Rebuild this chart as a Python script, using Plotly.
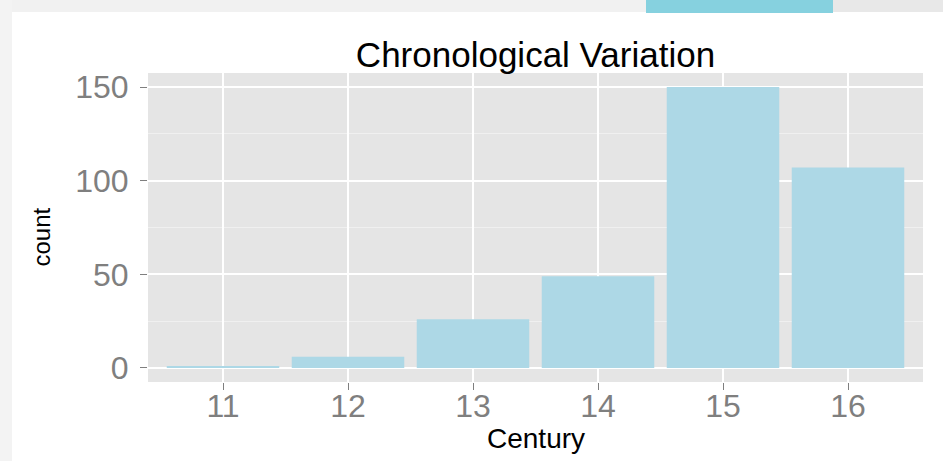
import plotly.graph_objects as go

centuries = ["11", "12", "13", "14", "15", "16"]
counts = [1, 6, 26, 49, 150, 107]
y_ticks = [0, 50, 100, 150]

W, H = 943, 461
L, R, T, B = 148, 20, 73, 79
pw, ph = W - L - R, H - T - B

def px(x):
    return (x - L) / pw

def py(y):
    return (H - B - y) / ph

fig = go.Figure(go.Bar(
    x=centuries, y=counts, width=0.9,
    marker=dict(color="#add8e6", line=dict(width=0)),
))

font_family = "Liberation Sans, Arial, Helvetica, sans-serif"

fig.update_layout(
    width=W, height=H, autosize=False,
    margin=dict(l=L, r=R, t=T, b=B, autoexpand=False),
    paper_bgcolor="white",
    plot_bgcolor="#e5e5e5",
    showlegend=False,
    title=dict(text="Chronological Variation", x=px(535.5), xref="paper", xanchor="center",
               y=1 - 55 / H, yref="container", yanchor="middle",
               font=dict(family=font_family, size=35, color="black")),
    font=dict(family=font_family),
    xaxis=dict(
        type="category", range=[-0.6, 5.6], automargin=False,
        showgrid=True, gridcolor="white", gridwidth=2,
        ticks="outside", ticklen=7, tickcolor="#7f7f7f", tickwidth=1,
        tickfont=dict(size=32, color="#7f7f7f"),
        ticklabelstandoff=-11,
        zeroline=False, showline=False,
    ),
    yaxis=dict(
        range=[-7.5, 157.5], tickvals=y_ticks, automargin=False,
        showgrid=True, gridcolor="white", gridwidth=2,
        minor=dict(dtick=25, tick0=0, showgrid=True, gridcolor="#f0f0f0", gridwidth=1),
        ticks="outside", ticklen=7, tickcolor="#7f7f7f", tickwidth=1,
        tickfont=dict(size=32, color="#7f7f7f"),
        ticklabelstandoff=5,
        zeroline=False, showline=False,
    ),
    bargap=0.1,
    annotations=[
        dict(text="Century", xref="paper", yref="paper", x=px(535.5), y=py(438),
             xanchor="center", yanchor="middle", showarrow=False,
             font=dict(family=font_family, size=28, color="black")),
        dict(text="count", xref="paper", yref="paper", x=px(41), y=py(237.5), textangle=-90,
             xanchor="center", yanchor="middle", showarrow=False,
             font=dict(family=font_family, size=24, color="black")),
    ],
    shapes=[
        dict(type="rect", xref="paper", yref="paper", x0=px(0), x1=px(W), y0=py(12), y1=py(0),
             fillcolor="#f1f1f1", line=dict(width=0), layer="below"),
        dict(type="rect", xref="paper", yref="paper", x0=px(833), x1=px(W), y0=py(12), y1=py(0),
             fillcolor="#e8e8e8", line=dict(width=0), layer="below"),
        dict(type="rect", xref="paper", yref="paper", x0=px(0), x1=px(12), y0=py(H), y1=py(0),
             fillcolor="#f3f3f3", line=dict(width=0), layer="below"),
        dict(type="rect", xref="paper", yref="paper", x0=px(646), x1=px(833), y0=py(13), y1=py(0),
             fillcolor="#86d1df", line=dict(width=0), layer="below"),
    ],
)

fig.write_html("out.html", config={"displayModeBar": False},
               post_script="document.body.style.margin='0';document.body.style.overflow='hidden';")
